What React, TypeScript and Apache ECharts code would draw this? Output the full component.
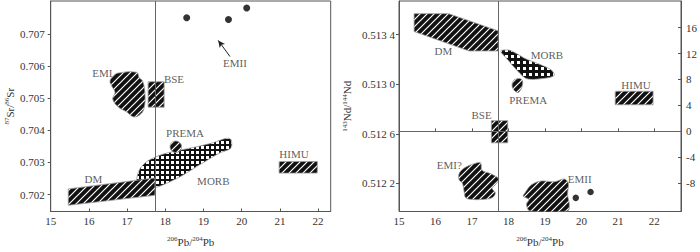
import React, { useEffect, useRef } from "react";
import * as echarts from "echarts";

type P = [number, number];

const FONT = '"Liberation Serif", "Times New Roman", serif';
const TEXT = "#333";
const AXIS = "#555";
const REF = "#666";

// ---- tick values ----
const pbTicks = [15, 16, 17, 18, 19, 20, 21, 22];
const srTicks = [0.702, 0.703, 0.704, 0.705, 0.706, 0.707];
const ndTicks = [0.5122, 0.5126, 0.513, 0.5134];
const epsTicks = [-8, -4, 0, 4, 8, 12, 16];

// ---- reference (BSE) lines ----
const pbBSE = 17.73;
const srBSE = 0.70513;
const epsCHUR = 0;

// ---- Sr panel fields (206Pb/204Pb, 87Sr/86Sr) ----
const srEMI: P[] = [
  [16.77, 0.705781], [17.251, 0.705802], [17.319, 0.70563], [17.408, 0.70553],
  [17.469, 0.705125], [17.442, 0.704671], [17.319, 0.704471], [17.162, 0.70442],
  [16.99, 0.704571], [16.77, 0.704722], [16.623, 0.704973], [16.683, 0.705176],
  [16.597, 0.705379], [16.552, 0.70553], [16.639, 0.705699],
];
const srBSEBox: P[] = [[17.55, 0.70551], [17.97, 0.70551], [17.97, 0.70472], [17.55, 0.70472]];
const srMORB: P[] = [
  [17.338, 0.702808], [17.555, 0.703059], [17.948, 0.703261], [18.298, 0.703361],
  [18.908, 0.703512], [19.257, 0.703618], [19.607, 0.703754], [19.72, 0.70371],
  [19.72, 0.703452], [19.432, 0.703301], [19.084, 0.703059], [18.733, 0.702808],
  [18.385, 0.702554], [18.037, 0.702354], [17.73, 0.702221], [17.338, 0.702203],
  [17.251, 0.702454],
];
const srDM: P[] = [[15.46, 0.70218], [17.73, 0.70252], [17.73, 0.70198], [15.46, 0.70167]];
const srHIMU: P[] = [[20.98, 0.70303], [21.98, 0.70303], [21.98, 0.70267], [20.98, 0.70267]];
const srPREMA: P = [18.275, 0.70349];
const srPREMARadius = 0.152;
const srEMIIData: P[] = [[18.56, 0.707496], [19.654, 0.707445], [20.131, 0.707799]];
const srArrow: P[] = [[19.694, 0.706292], [19.385, 0.706794]];
const srLabelNames = ["EMI", "BSE", "PREMA", "HIMU", "MORB", "DM", "EMII"];
const srLabelPos: P[] = [
  [16.35, 0.705781], [18.228, 0.7056], [18.516, 0.703915], [21.369, 0.703261],
  [19.257, 0.702433], [16.115, 0.702475], [19.825, 0.706082],
];

// ---- Nd panel fields (206Pb/204Pb, 143Nd/144Nd) ----
const ndDM: P[] = [
  [15.414, 0.51357], [16.359, 0.51357], [17.72, 0.513431], [17.72, 0.513269],
  [16.919, 0.513269], [15.414, 0.513426],
];
const ndMORB: P[] = [
  [17.803, 0.513274], [18.046, 0.513274], [18.451, 0.513209], [18.9, 0.513156],
  [19.17, 0.513117], [19.262, 0.513073], [19.081, 0.513052], [18.63, 0.513039],
  [18.451, 0.513052], [18.181, 0.51313], [17.911, 0.513222], [17.803, 0.513256],
];
const ndPREMA: P[] = [
  [18.135, 0.513026], [18.224, 0.513044], [18.359, 0.513039], [18.386, 0.512999],
  [18.316, 0.512948], [18.251, 0.512934], [18.135, 0.51296], [18.1, 0.512995],
];
const ndHIMU: P[] = [[20.927, 0.512944], [21.965, 0.512944], [21.965, 0.512835], [20.927, 0.512835]];
const ndBSEBox: P[] = [[17.532, 0.512707], [17.981, 0.512707], [17.981, 0.512528], [17.532, 0.512528]];
const ndEMI: P[] = [
  [16.649, 0.51228], [16.784, 0.512324], [17.054, 0.512359], [17.235, 0.512367],
  [17.278, 0.512306], [17.505, 0.51228], [17.73, 0.512236], [17.641, 0.512189],
  [17.549, 0.512163], [17.641, 0.512123], [17.549, 0.512084], [17.278, 0.512071],
  [17.008, 0.512071], [16.83, 0.512084], [16.784, 0.512136], [16.738, 0.512202],
  [16.649, 0.512228],
];
const ndEMII: P[] = [
  [18.451, 0.512123], [18.63, 0.512189], [18.9, 0.51222], [19.262, 0.512214],
  [19.532, 0.512236], [19.641, 0.512202], [19.622, 0.51211], [19.668, 0.512032],
  [19.622, 0.511979], [18.586, 0.511979], [18.495, 0.512032], [18.559, 0.512071],
  [18.405, 0.512097],
];
const ndEMIIData: P[] = [[19.846, 0.512084], [20.251, 0.512131]];
const ndLabelNames = ["DM", "MORB", "PREMA", "HIMU", "BSE", "EMI?", "EMII"];
const ndLabelPos: P[] = [
  [16.216, 0.513269], [19.054, 0.51324], [18.541, 0.512874], [21.495, 0.512995],
  [17.262, 0.512751], [16.378, 0.512346], [19.954, 0.512233],
];

function stripeTile(size: number): string {
  const c = document.createElement("canvas");
  c.width = size;
  c.height = size;
  const g = c.getContext("2d")!;
  g.fillStyle = "#111";
  g.fillRect(0, 0, size, size);
  g.strokeStyle = "#fff";
  g.lineWidth = 1.2;
  g.beginPath();
  g.moveTo(-1, size + 1);
  g.lineTo(size + 1, -1);
  g.moveTo(-1, 1);
  g.lineTo(1, -1);
  g.moveTo(size - 1, size + 1);
  g.lineTo(size + 1, size - 1);
  g.stroke();
  return c.toDataURL();
}

function gridTile(size: number, sq: number): string {
  const c = document.createElement("canvas");
  c.width = size;
  c.height = size;
  const g = c.getContext("2d")!;
  g.fillStyle = "#111";
  g.fillRect(0, 0, size, size);
  g.fillStyle = "#fff";
  g.fillRect(1, 1, sq, sq);
  return c.toDataURL();
}

export default function App() {
  const ref = useRef<HTMLDivElement>(null);

  useEffect(() => {
    if (!ref.current) return;
    const chart = echarts.init(ref.current, undefined, { renderer: "svg" });

    const stripe = { image: stripeTile(7), repeat: "repeat", imageWidth: 7, imageHeight: 7 };
    const gridL = { image: gridTile(5, 3), repeat: "repeat", imageWidth: 5, imageHeight: 5 };
    const gridR = { image: gridTile(6, 3), repeat: "repeat", imageWidth: 6, imageHeight: 6 };

    const poly = (pts: P[], xi: number, yi: number, fill: any, smooth: number, z = 3) => ({
      type: "custom",
      xAxisIndex: xi,
      yAxisIndex: yi,
      z,
      silent: true,
      clip: true,
      data: [pts[0]],
      renderItem: (_p: any, api: any) => ({
        type: "polygon",
        shape: { points: pts.map((p) => api.coord(p)), smooth },
        style: { fill, stroke: "#9a9a9a", lineWidth: 0.8 },
      }),
    });

    const circle = (c: P, rx: number, xi: number, yi: number, fill: any) => ({
      type: "custom",
      xAxisIndex: xi,
      yAxisIndex: yi,
      z: 4,
      silent: true,
      data: [c],
      renderItem: (_p: any, api: any) => {
        const pt = api.coord(c);
        const r = api.size([rx, 0])[0];
        return {
          type: "circle",
          shape: { cx: pt[0], cy: pt[1], r },
          style: { fill, stroke: "#9a9a9a", lineWidth: 0.8 },
        };
      },
    });

    const labels = (names: string[], pos: P[], xi: number, yi: number) => ({
      type: "scatter",
      xAxisIndex: xi,
      yAxisIndex: yi,
      z: 6,
      silent: true,
      symbolSize: 1,
      itemStyle: { color: "rgba(0,0,0,0)" },
      data: pos.map((p, i) => ({ value: p, name: names[i] })),
      label: {
        show: true,
        position: "inside",
        formatter: "{b}",
        color: TEXT,
        fontFamily: FONT,
        fontSize: 11,
      },
    });

    const nameRich = {
      fontFamily: FONT,
      fontSize: 11,
      color: TEXT,
      rich: {
        s: { fontSize: 7, fontFamily: FONT, color: TEXT, verticalAlign: "top", lineHeight: 12 },
        m: { fontSize: 11, fontFamily: FONT, color: TEXT, lineHeight: 12 },
      },
    };

    const xAxisBase = (gi: number, max: number) => ({
      type: "value",
      gridIndex: gi,
      min: 15,
      max,
      name: "{s|206}{m|Pb/}{s|204}{m|Pb}",
      nameLocation: "middle",
      nameGap: 24,
      nameTextStyle: nameRich,
      axisLine: { show: true, lineStyle: { color: AXIS, width: 1 } },
      axisTick: { show: true, inside: true, length: 3, lineStyle: { color: AXIS }, customValues: pbTicks },
      axisLabel: {
        show: true,
        customValues: pbTicks,
        margin: 4,
        color: TEXT,
        fontFamily: FONT,
        fontSize: 11,
        formatter: (v: number) => String(v),
      },
      splitLine: { show: false },
    });

    const option: any = {
      animation: false,
      backgroundColor: "#fff",
      grid: [
        { left: 50.7, top: 1, width: 280, height: 216.3, show: true, borderColor: AXIS, borderWidth: 1 },
        { left: 399, top: 1, width: 286, height: 216.3, show: true, borderColor: AXIS, borderWidth: 1 },
      ],
      xAxis: [xAxisBase(0, 22.33), xAxisBase(1, 22.73)],
      yAxis: [
        {
          type: "value",
          gridIndex: 0,
          min: 0.701477,
          max: 0.708019,
          name: "{s|87}{m|Sr/}{s|86}{m|Sr}",
          nameLocation: "middle",
          nameRotate: 90,
          nameGap: 35,
          nameTextStyle: nameRich,
          axisLine: { show: true, lineStyle: { color: AXIS } },
          axisTick: { show: true, length: 3, lineStyle: { color: AXIS }, customValues: srTicks },
          axisLabel: {
            customValues: srTicks,
            margin: 6,
            color: TEXT,
            fontFamily: FONT,
            fontSize: 11,
            formatter: (v: number) => v.toFixed(3),
          },
          splitLine: { show: false },
        },
        {
          type: "value",
          gridIndex: 1,
          position: "left",
          min: 0.511974,
          max: 0.513672,
          name: "{s|143}{m|Nd/}{s|144}{m|Nd}",
          nameLocation: "middle",
          nameRotate: 90,
          nameGap: 46,
          nameTextStyle: nameRich,
          axisLine: { show: true, lineStyle: { color: AXIS } },
          axisTick: { show: true, length: 3, lineStyle: { color: AXIS }, customValues: ndTicks },
          axisLabel: {
            customValues: ndTicks,
            margin: 4,
            color: TEXT,
            fontFamily: FONT,
            fontSize: 11,
            formatter: (v: number) => {
              const s = v.toFixed(4);
              return s.slice(0, 5) + " " + s.slice(5);
            },
          },
          splitLine: { show: false },
        },
        {
          type: "value",
          gridIndex: 1,
          position: "right",
          min: -12.35,
          max: 20.1,
          axisLine: { show: true, lineStyle: { color: AXIS } },
          axisTick: { show: true, inside: true, length: 3, lineStyle: { color: AXIS }, customValues: epsTicks },
          axisLabel: {
            customValues: epsTicks,
            margin: 5,
            color: TEXT,
            fontFamily: FONT,
            fontSize: 11,
            formatter: (v: number) => String(v),
          },
          splitLine: { show: false },
        },
      ],
      series: [
        {
          type: "scatter",
          xAxisIndex: 0,
          yAxisIndex: 0,
          z: 1,
          silent: true,
          data: [],
          markLine: {
            silent: true,
            symbol: "none",
            label: { show: false },
            lineStyle: { color: REF, type: "solid", width: 1 },
            data: [{ yAxis: srBSE }, { xAxis: pbBSE }],
          },
        },
        {
          type: "scatter",
          xAxisIndex: 1,
          yAxisIndex: 2,
          z: 1,
          silent: true,
          data: [],
          markLine: {
            silent: true,
            symbol: "none",
            label: { show: false },
            lineStyle: { color: REF, type: "solid", width: 1 },
            data: [{ yAxis: epsCHUR }, { xAxis: pbBSE }],
          },
        },
        poly(srMORB, 0, 0, gridL, 0.3, 3),
        poly(srDM, 0, 0, stripe, 0, 4),
        poly(srEMI, 0, 0, stripe, 0.4, 3),
        poly(srBSEBox, 0, 0, stripe, 0, 3),
        poly(srHIMU, 0, 0, stripe, 0, 3),
        circle(srPREMA, srPREMARadius, 0, 0, stripe),
        {
          type: "scatter",
          xAxisIndex: 0,
          yAxisIndex: 0,
          z: 5,
          silent: true,
          symbolSize: 7,
          itemStyle: { color: "#000" },
          data: srEMIIData,
          markLine: {
            silent: true,
            symbol: ["none", "arrow"],
            symbolSize: [5, 7],
            label: { show: false },
            lineStyle: { color: "#222", type: "solid", width: 1 },
            data: [[{ coord: srArrow[0] }, { coord: srArrow[1] }]],
          },
        },
        labels(srLabelNames, srLabelPos, 0, 0),
        poly(ndDM, 1, 1, stripe, 0, 3),
        poly(ndMORB, 1, 1, gridR, 0.25, 3),
        poly(ndPREMA, 1, 1, stripe, 0.5, 3),
        poly(ndHIMU, 1, 1, stripe, 0, 3),
        poly(ndBSEBox, 1, 1, stripe, 0, 3),
        poly(ndEMI, 1, 1, stripe, 0.35, 3),
        poly(ndEMII, 1, 1, stripe, 0.35, 3),
        {
          type: "scatter",
          xAxisIndex: 1,
          yAxisIndex: 1,
          z: 5,
          silent: true,
          symbolSize: 6.5,
          itemStyle: { color: "#000" },
          data: ndEMIIData,
        },
        labels(ndLabelNames, ndLabelPos, 1, 1),
      ],
    };

    chart.setOption(option);
    return () => chart.dispose();
  }, []);

  return (
    <div
      ref={ref}
      style={{ position: "fixed", left: 0, top: 0, width: 700, height: 252, background: "#fff" }}
    />
  );
}
